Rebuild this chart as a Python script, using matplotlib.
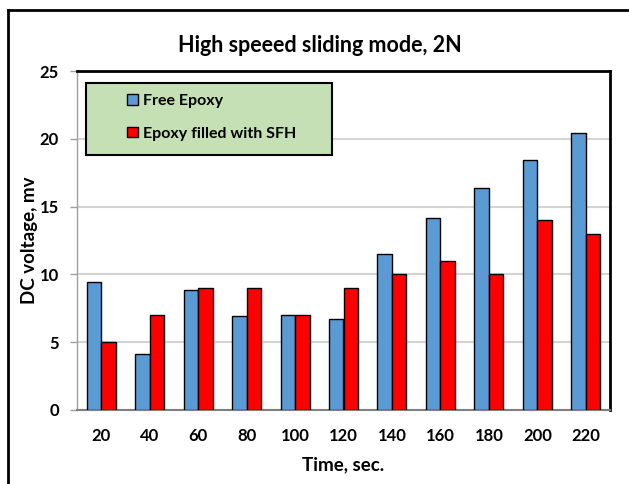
import matplotlib
matplotlib.use("Agg")
import matplotlib.pyplot as plt
import numpy as np
from matplotlib.patches import Rectangle, Patch
from matplotlib.lines import Line2D

categories = ["20", "40", "60", "80", "100", "120", "140", "160", "180", "200", "220"]
free_epoxy = [9.45, 4.1, 8.85, 6.9, 7.0, 6.7, 11.5, 14.15, 16.4, 18.4, 20.4]
epoxy_sfh = [5, 7, 9, 9, 7, 9, 10, 11, 10, 14, 13]
series_names = ["Free Epoxy", "Epoxy filled with SFH"]
y_ticks = [0, 5, 10, 15, 20, 25]

plt.rcParams['font.family'] = ['Lato', 'DejaVu Sans']

W, H = 629, 484
fig = plt.figure(figsize=(W / 100, H / 100), dpi=100)
fig.patch.set_facecolor('white')

# outer chart frame
fig.add_artist(Line2D([8 / W, 8 / W], [0, 1 - 10 / H], transform=fig.transFigure, color='black', lw=2))
fig.add_artist(Line2D([8 / W, 1], [1 - 10 / H, 1 - 10 / H], transform=fig.transFigure, color='black', lw=2))

left, right, top, bottom = 77, 610, 71, 410
ax = fig.add_axes([left / W, 1 - bottom / H, (right - left) / W, (bottom - top) / H])

x = np.arange(len(categories))
bw = 0.3
ax.bar(x - bw / 2, free_epoxy, bw, color='#5B9BD5', edgecolor='black', linewidth=1, zorder=3)
ax.bar(x + bw / 2, epoxy_sfh, bw, color='#FF0000', edgecolor='black', linewidth=1, zorder=3)

ax.set_xlim(-0.5, len(categories) - 0.5)
ax.set_ylim(0, 25)
ax.set_yticks(y_ticks)
ax.set_yticklabels([str(v) for v in y_ticks], fontsize=12, fontweight='bold')
ax.set_xticks(x)
ax.set_xticklabels(categories, fontsize=12, fontweight='bold')
ax.tick_params(axis='x', length=0, pad=13)
ax.tick_params(axis='y', length=5, color='#A0A0A0', width=1, pad=8)
ax.yaxis.grid(True, color='#D4D4D4', lw=1.5, zorder=0)
ax.set_axisbelow(True)

for s in ['top', 'right']:
    ax.spines[s].set_color('black')
    ax.spines[s].set_linewidth(2)
ax.spines['left'].set_color('#A0A0A0')
ax.spines['left'].set_linewidth(1)
ax.spines['bottom'].set_color('#808080')
ax.spines['bottom'].set_linewidth(1.5)

fig.text(320 / W, 1 - 45 / H, "High speeed sliding mode, 2N", ha='center', va='center',
         fontsize=15.5, fontweight='bold')
fig.text(343 / W, 1 - 465 / H, "Time, sec.", ha='center', va='center', fontsize=13.5, fontweight='bold')
fig.text(30 / W, 1 - 240 / H, "DC voltage, mv", ha='center', va='center', rotation=90,
         fontsize=13.5, fontweight='bold')

# legend box
lx0, lx1, ly0, ly1 = 86, 332, 83, 155
box = Rectangle((lx0 / W, 1 - ly1 / H), (lx1 - lx0) / W, (ly1 - ly0) / H, transform=fig.transFigure,
                facecolor='#C5E0B4', edgecolor='black', lw=1.5, zorder=5)
fig.add_artist(box)
handles = [Patch(facecolor='#5B9BD5', edgecolor='black', lw=1),
           Patch(facecolor='#FF0000', edgecolor='black', lw=1)]
leg = fig.legend(handles, series_names, loc='upper left', bbox_to_anchor=(121 / W, 1 - 88 / H),
                 frameon=False, fontsize=11.5, handlelength=0.65, handleheight=0.65,
                 handletextpad=0.3, labelspacing=1.15, borderaxespad=0)
for t in leg.get_texts():
    t.set_fontweight('bold')
leg.set_zorder(6)

fig.savefig('out.png', dpi=100, facecolor='white')
